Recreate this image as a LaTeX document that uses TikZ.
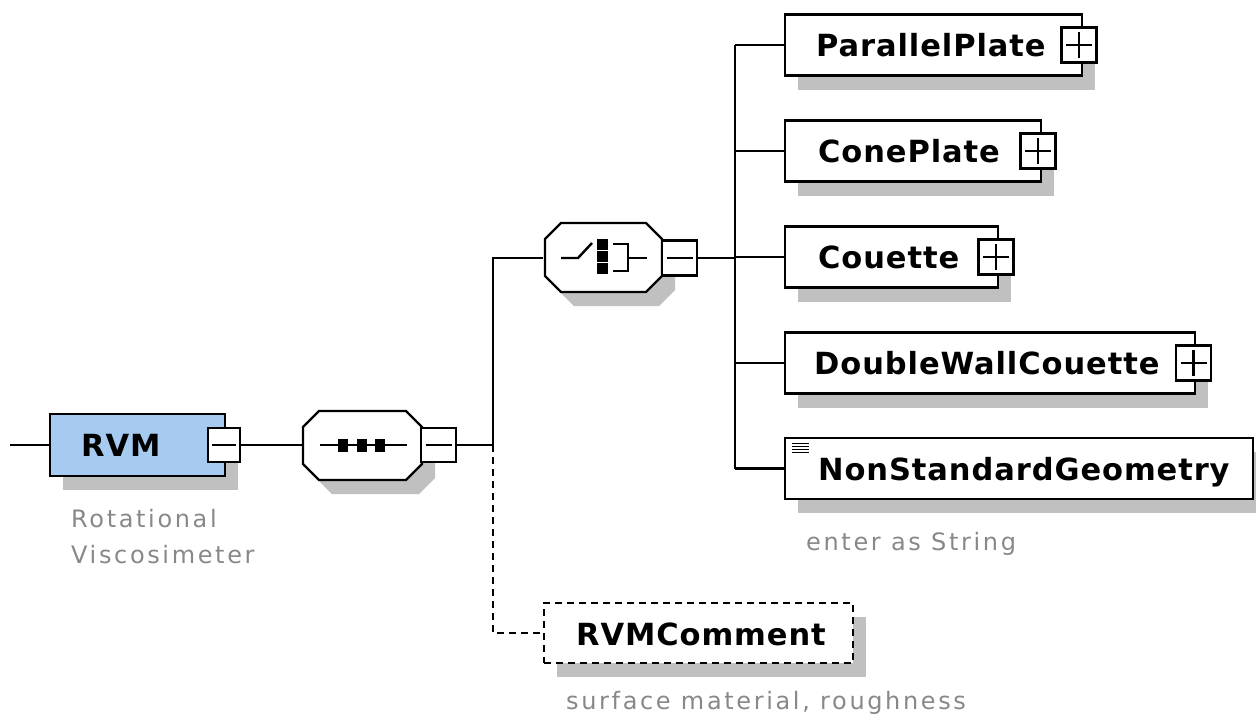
\documentclass[tikz,border=0pt]{standalone}
\usepackage{fontspec}
\usetikzlibrary{shadows}
\newfontfamily\lblfont[LetterSpace=3]{DejaVu Sans}
\newfontfamily\notefont[LetterSpace=11]{DejaVu Sans}
\definecolor{shadowgray}{RGB}{192,192,192}
\definecolor{elemblue}{RGB}{166,202,240}
\definecolor{notegray}{RGB}{136,136,136}

\begin{document}
\begin{tikzpicture}[x=1pt,y=-1pt,line width=2.4pt,
  dropsh/.style={drop shadow={shadow xshift=13pt,shadow yshift=-14pt,fill=shadowgray,opacity=1}},
  elem/.style={draw,fill=white,inner sep=0pt,minimum height=61pt,dropsh},
  pmbox/.style={draw,fill=white,inner sep=0pt,minimum width=35pt,minimum height=35pt},
  anchorbox/.style={inner sep=0pt,minimum width=119pt,minimum height=69pt},
  lbl/.style={anchor=base west,inner sep=0pt,font=\lblfont\bfseries\fontsize{30.5}{36}\selectfont},
  notetxt/.style={anchor=base west,inner sep=0pt,text=notegray,font=\notefont\fontsize{24}{28}\selectfont},
  optline/.style={dash pattern=on 7pt off 5pt},
]
\useasboundingbox (0,0) rectangle (1256,721);

% ---------- root element ----------
\node[elem,fill=elemblue,minimum width=175pt,minimum height=62pt] (rvm) at (137.5,445) {};
\node[pmbox,minimum width=32pt,minimum height=34pt] (rvmpm) at (224,445) {};
\draw (rvmpm.center) ++(-12,0) -- ++(24,0);
\node[lbl] (rvmt) at (80,456) {RVM};
\node[notetxt] (rvmn1) at (70,527) {Rotational};
\node[notetxt] (rvmn2) at (70,563) {Viscosimeter};

% ---------- sequence compositor ----------
\node[anchorbox] (seq) at (362.5,445) {};
\draw[fill=white,dropsh] (319,411) -- (406,411) -- (422,427) -- (422,464) -- (406,480)
  -- (319,480) -- (303,464) -- (303,427) -- cycle;
\draw (320,445) -- (407,445);
\foreach \sx in {338,357,375} \fill (\sx,439) rectangle ++(10,13);
\node[pmbox,minimum height=34pt] (seqpm) at (438.5,445) {};
\draw (seqpm.center) ++(-13,0) -- ++(26,0);

% ---------- choice compositor ----------
\node[anchorbox] (cho) at (603.5,258) {};
\draw[fill=white,dropsh] (561,223) -- (646,223) -- (662,239) -- (662,276) -- (646,292)
  -- (561,292) -- (545,276) -- (545,239) -- cycle;
\draw (561,258) -- (578,258) -- (592,243);
\foreach \sy in {239,251,263} \fill (597,\sy) rectangle ++(11,11);
\draw (613,244) -- (628,244) -- (628,271) -- (613,271);
\draw (628,258) -- (647,258);
\node[pmbox] (chopm) at (679.5,258) {};
\draw (chopm.center) ++(-13,0) -- ++(26,0);

% ---------- child elements ----------
\node[elem,minimum width=297pt] (pp) at (933.5,45) {};
\node[lbl] (ppt) at (815,56) {ParallelPlate};
\node[pmbox] (pppm) at (1079,45) {};

\node[elem,minimum width=256pt] (cp) at (913,151) {};
\node[lbl] (cpt) at (817,162) {ConePlate};
\node[pmbox] (cppm) at (1038,151) {};

\node[elem,minimum width=213pt] (cou) at (891.5,257) {};
\node[lbl] (cout) at (817,268) {Couette};
\node[pmbox] (coupm) at (996,257) {};

\node[elem,minimum width=410pt] (dwc) at (990,363) {};
\node[lbl] (dwct) at (813,374) {DoubleWallCouette};
\node[pmbox] (dwcpm) at (1193.5,363) {};

\foreach \p in {pppm,cppm,coupm,dwcpm} {
  \draw (\p.center) ++(-13,0) -- ++(26,0);
  \draw (\p.center) ++(0,-13) -- ++(0,26);
}

\node[elem,minimum width=468pt] (nsg) at (1019,468.5) {};
\node[lbl] (nsgt) at (817,480) {NonStandardGeometry};
\foreach \ly in {443,446.3,449.6,452.9} \draw[line width=1pt] (792,\ly) -- (809,\ly);
\node[notetxt] (nsgn) at (805,550) {enter as String};

\node[elem,optline,minimum width=309pt,minimum height=60pt] (cmt) at (698.5,633) {};
\node[lbl] (cmtt) at (575,645) {RVMComment};
\node[notetxt] (cmtn) at (565,709) {surface material, roughness};

% ---------- connectors ----------
\coordinate (rvmin) at (10,445);
\coordinate (j1) at (493,445);
\coordinate (j2) at (735,258);
\draw (rvmin) -- (rvm.west);
\draw (rvmpm.east) -- (seq.west);
\draw (seqpm.east) -- (j1);
\draw (j1) |- (cho.west);
\draw[optline] (j1) |- (cmt.west);
\draw (chopm.east) -- (j2);
\draw (j2 |- pp.west) -- (j2 |- nsg.west);
\foreach \c in {pp,cp,cou,dwc,nsg} \draw (j2 |- \c.west) -- (\c.west);
\end{tikzpicture}
\end{document}
